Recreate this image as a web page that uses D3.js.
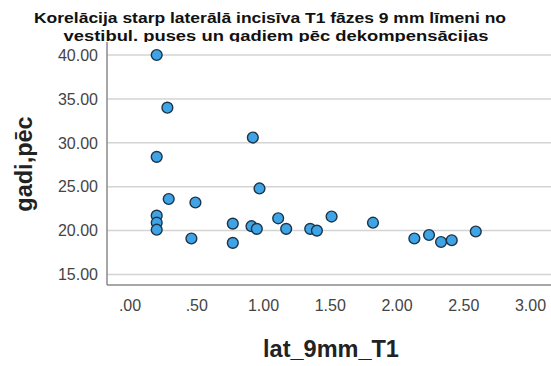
<!DOCTYPE html>
<html>
<head>
<meta charset="utf-8">
<script src="https://cdn.jsdelivr.net/npm/d3@7"></script>
<style>
  html, body { margin: 0; padding: 0; background: #fff; }
  svg { display: block; }
</style>
</head>
<body>
<svg id="chart" width="551" height="366"></svg>
<script>
const titleLines = ["Korelācija starp laterālā incisīva T1 fāzes 9 mm līmeni no", "vestibul. puses un gadiem pēc dekompensācijas"];
const xLabel = "lat_9mm_T1";
const yLabel = "gadi,pēc";
const xTicks = [0, 0.5, 1, 1.5, 2, 2.5, 3];
const xTickLabels = [".00", ".50", "1.00", "1.50", "2.00", "2.50", "3.00"];
const yTicks = [15, 20, 25, 30, 35, 40];
const yTickLabels = ["15.00", "20.00", "25.00", "30.00", "35.00", "40.00"];
const latValues = [0.20, 0.28, 0.20, 0.92, 0.97, 0.29, 0.49, 0.20, 0.20, 0.20, 0.46, 0.77, 0.77, 0.91, 0.95, 1.11, 1.17, 1.35, 1.40, 1.51, 1.82, 2.13, 2.24, 2.33, 2.41, 2.59];
const gadiValues = [40.0, 34.0, 28.4, 30.6, 24.8, 23.6, 23.2, 21.7, 20.9, 20.1, 19.1, 20.8, 18.6, 20.5, 20.2, 21.4, 20.2, 20.2, 20.0, 21.6, 20.9, 19.1, 19.5, 18.7, 18.9, 19.9];

const svg = d3.select("#chart");
const plot = { left: 107, right: 551, top: 42, bottom: 285 };

const x = d3.scaleLinear().domain([0, 3]).range([130, 530.5]);
const y = d3.scaleLinear().domain([15, 40]).range([274.5, 55]);

// title
const titleLayout = [{ cx: 270, base: 23, len: 472 }, { cx: 276, base: 41, len: 425 }];
svg.append("g").selectAll("text").data(titleLines).join("text")
  .attr("x", (d, i) => titleLayout[i].cx)
  .attr("y", (d, i) => titleLayout[i].base)
  .attr("text-anchor", "middle")
  .attr("textLength", (d, i) => titleLayout[i].len)
  .attr("lengthAdjust", "spacingAndGlyphs")
  .attr("font-family", "Liberation Sans, Arial, sans-serif")
  .attr("font-weight", "bold")
  .attr("font-size", 15.5)
  .attr("fill", "#111")
  .text(d => d);

// plot background (clips title descenders like the original)
svg.append("rect")
  .attr("x", plot.left).attr("y", plot.top)
  .attr("width", plot.right - plot.left).attr("height", plot.bottom - plot.top)
  .attr("fill", "#fff");

// gridlines
svg.append("g").selectAll("line").data(yTicks).join("line")
  .attr("x1", plot.left).attr("x2", plot.right)
  .attr("y1", d => y(d)).attr("y2", d => y(d))
  .attr("stroke", "#d4d4d4").attr("stroke-width", 1.5);

// axes lines
svg.append("line").attr("x1", plot.left).attr("x2", plot.left)
  .attr("y1", plot.top).attr("y2", plot.bottom)
  .attr("stroke", "#8a8a8a").attr("stroke-width", 1.5);
svg.append("line").attr("x1", plot.left).attr("x2", plot.right)
  .attr("y1", plot.bottom).attr("y2", plot.bottom)
  .attr("stroke", "#8a8a8a").attr("stroke-width", 1.5);

// y tick labels
svg.append("g").selectAll("text").data(yTicks).join("text")
  .attr("x", 98).attr("y", d => y(d))
  .attr("dy", "0.36em")
  .attr("text-anchor", "end")
  .attr("font-family", "Liberation Sans, Arial, sans-serif")
  .attr("font-size", 16)
  .attr("fill", "#444")
  .text((d, i) => yTickLabels[i]);

// x tick labels
svg.append("g").selectAll("text").data(xTicks).join("text")
  .attr("x", d => x(d)).attr("y", 311)
  .attr("text-anchor", "middle")
  .attr("font-family", "Liberation Sans, Arial, sans-serif")
  .attr("font-size", 16)
  .attr("fill", "#444")
  .text((d, i) => xTickLabels[i]);

// axis titles
svg.append("text")
  .attr("x", 331).attr("y", 357)
  .attr("text-anchor", "middle")
  .attr("font-family", "Liberation Sans, Arial, sans-serif")
  .attr("font-weight", "bold")
  .attr("font-size", 23.5)
  .attr("fill", "#222")
  .text(xLabel);

svg.append("text")
  .attr("transform", "translate(32,164) rotate(-90)")
  .attr("text-anchor", "middle")
  .attr("font-family", "Liberation Sans, Arial, sans-serif")
  .attr("font-weight", "bold")
  .attr("font-size", 23.5)
  .attr("fill", "#222")
  .text(yLabel);

// points
const pts = latValues.map((v, i) => ({ x: v, y: gadiValues[i] }));
svg.append("g").selectAll("circle").data(pts).join("circle")
  .attr("cx", d => x(d.x)).attr("cy", d => y(d.y))
  .attr("r", 5.4)
  .attr("fill", "#3fa4e6")
  .attr("stroke", "#1d3448")
  .attr("stroke-width", 1.4);
</script>
</body>
</html>
